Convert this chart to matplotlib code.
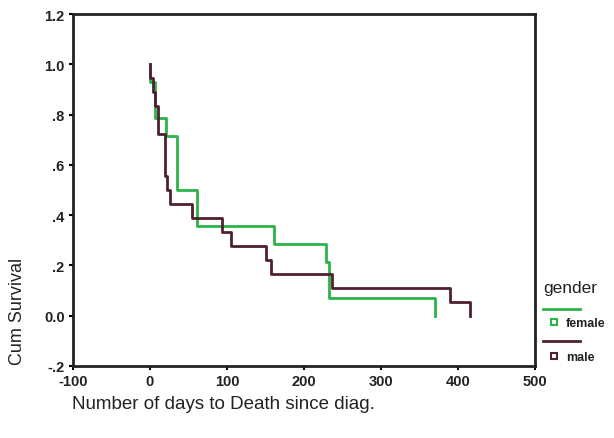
import matplotlib
matplotlib.use("Agg")
import matplotlib.pyplot as plt
from matplotlib.lines import Line2D

plt.rcParams['font.family'] = ['Liberation Sans', 'DejaVu Sans']

# Female survival (step function): event days and survival after each event
female_days = [0, 0, 6, 21, 35, 61, 161, 228, 232, 370]
female_surv = [1.0, 0.929, 0.786, 0.714, 0.5, 0.357, 0.286, 0.214, 0.071, 0.0]

# Male survival
male_days = [0, 0, 4, 7, 10, 19, 22, 26, 55, 94, 105, 151, 157, 236, 390, 415]
male_surv = [1.0, 0.944, 0.889, 0.833, 0.722, 0.556, 0.5, 0.444, 0.389, 0.333,
             0.278, 0.222, 0.167, 0.111, 0.056, 0.0]

xticks = [-100, 0, 100, 200, 300, 400, 500]
yticks = [-0.2, 0.0, 0.2, 0.4, 0.6, 0.8, 1.0, 1.2]
ytick_labels = ['-.2', '0.0', '.2', '.4', '.6', '.8', '1.0', '1.2']

green = '#2cb34a'
maroon = '#4e2030'

fig = plt.figure(figsize=(6.14, 4.39), dpi=100)
ax = fig.add_axes([73/614, 1 - 367/439, (535-73)/614, (367-15)/439])

ax.step(female_days, female_surv, where='post', color=green, lw=2)
ax.step(male_days, male_surv, where='post', color=maroon, lw=2)

ax.set_xlim(-100, 500)
ax.set_ylim(-0.2, 1.2)
ax.set_xticks(xticks)
ax.set_xticklabels([str(t) for t in xticks])
ax.set_yticks(yticks)
ax.set_yticklabels(ytick_labels)
ax.tick_params(direction='out', length=3, width=1.5, labelsize=10.5, pad=3)
for lab in ax.get_xticklabels() + ax.get_yticklabels():
    lab.set_fontweight('bold')
    lab.set_color('#222222')
for sp in ax.spines.values():
    sp.set_linewidth(2)
    sp.set_color('#222222')

fig.text(18/614, 1 - 311/439, 'Cum Survival', rotation=90, ha='center', va='center',
         fontsize=13, color='#222222')
fig.text(72/614, 1 - 405/439, 'Number of days to Death since diag.', ha='left', va='center',
         fontsize=13.5, color='#222222')

# Legend (manual, in figure coordinates)
fig.text(543/614, 1 - 289/439, 'gender', ha='left', va='center', fontsize=12.5, color='#222222')
fig.add_artist(Line2D([543/614, 580/614], [1 - 310/439, 1 - 310/439], color=green, lw=2))
fig.add_artist(Line2D([554/614], [1 - 323/439], marker='s', markersize=4, markerfacecolor='none',
                      markeredgecolor=green, markeredgewidth=1.5, linestyle='none'))
fig.text(566/614, 1 - 324/439, 'female', ha='left', va='center', fontsize=9,
         fontweight='bold', color='#222222')
fig.add_artist(Line2D([543/614, 580/614], [1 - 342/439, 1 - 342/439], color=maroon, lw=2))
fig.add_artist(Line2D([554/614], [1 - 357/439], marker='s', markersize=4, markerfacecolor='none',
                      markeredgecolor=maroon, markeredgewidth=1.5, linestyle='none'))
fig.text(566/614, 1 - 358/439, 'male', ha='left', va='center', fontsize=9,
         fontweight='bold', color='#222222')

fig.savefig('out.png', dpi=100)
